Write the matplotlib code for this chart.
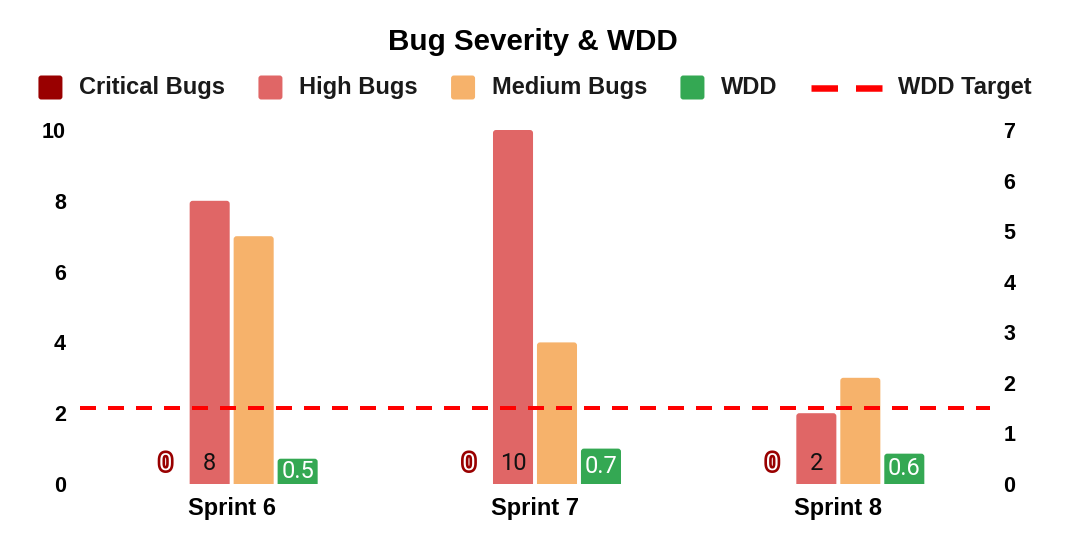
import numpy as np
import matplotlib
matplotlib.use("Agg")
import matplotlib.pyplot as plt
import matplotlib.patheffects as pe
from matplotlib.offsetbox import DrawingArea, TextArea, HPacker, AnchoredOffsetbox
from matplotlib.patches import FancyBboxPatch
from matplotlib.lines import Line2D

# data
sprints = ['Sprint 6', 'Sprint 7', 'Sprint 8']
critical_bugs = [0, 0, 0]
high_bugs = [8, 10, 2]
medium_bugs = [7, 4, 3]
wdd = [0.5, 0.7, 0.6]
wdd_target = 1.5

left_ticks = [0, 2, 4, 6, 8, 10]
right_ticks = [0, 1, 2, 3, 4, 5, 6, 7]

c_crit = '#990000'
c_high = '#E06666'
c_med = '#F6B26B'
c_wdd = '#34A853'
c_target = '#FF0000'

plt.rcParams['font.family'] = ['Liberation Sans', 'DejaVu Sans']
plt.rcParams['lines.scale_dashes'] = False

W, H, DPI = 1070, 548, 100
px = 72 / DPI  # points per pixel
AX_W, AX_H = 910, 354

fig = plt.figure(figsize=(W / DPI, H / DPI), dpi=DPI)
ax = fig.add_axes([80 / W, 64 / H, AX_W / W, AX_H / H])
ax2 = ax.twinx()

x = np.arange(len(sprints))
bar_w = 0.132
step = 0.145


def round_tops(axis, bars, y_span, radius_px=3):
    # swap plain rectangles for ones with rounded corners (bottom ones get clipped)
    x_upp = len(sprints) / AX_W
    asp = (y_span / AX_H) / x_upp
    r = radius_px * x_upp
    for b in bars:
        if b.get_height() <= 0:
            continue
        fb = FancyBboxPatch((b.get_x(), -r * asp), b.get_width(), b.get_height() + r * asp,
                            boxstyle=f'round,pad=0,rounding_size={r}', mutation_aspect=asp,
                            fc=b.get_facecolor(), ec='none', zorder=b.get_zorder())
        axis.add_patch(fb)
        b.set_visible(False)


ax.bar(x - 1.5 * step, critical_bugs, bar_w, color=c_crit, zorder=2)
hb = ax.bar(x - 0.5 * step, high_bugs, bar_w, color=c_high, zorder=2)
mb = ax.bar(x + 0.5 * step, medium_bugs, bar_w, color=c_med, zorder=2)
wb = ax2.bar(x + 1.5 * step, wdd, bar_w, color=c_wdd, zorder=2)
round_tops(ax, hb, 10)
round_tops(ax, mb, 10)
round_tops(ax2, wb, 7)
ax2.axhline(wdd_target, color=c_target, lw=4 * px, dashes=(16 * px, 12 * px), zorder=3)

ax.set_xlim(-0.5, len(sprints) - 0.5)
ax.set_ylim(0, 10)
ax2.set_ylim(0, 7)
ax.set_yticks(left_ticks)
ax2.set_yticks(right_ticks)
ax.set_xticks(x)
ax.set_xticklabels(sprints)

for a in (ax, ax2):
    for s in a.spines.values():
        s.set_visible(False)
    a.tick_params(length=0, labelsize=15.5, labelcolor='black')
    for lab in a.get_yticklabels():
        lab.set_fontweight('bold')
ax.tick_params(axis='y', pad=10)
ax2.tick_params(axis='y', pad=9.5)
ax.tick_params(axis='x', pad=9, labelsize=17)
for lab in ax.get_xticklabels():
    lab.set_fontweight('bold')

# data labels
lbl_font = dict(family=['Roboto', 'DejaVu Sans'], fontsize=17)
for xi, v in zip(x - 1.5 * step, critical_bugs):
    ax2.annotate(str(v), (xi, 0), xytext=(0, 10), textcoords='offset points',
                 ha='center', va='baseline', color='white', zorder=5,
                 path_effects=[pe.Stroke(linewidth=3.8, foreground=c_crit), pe.Normal()],
                 **lbl_font)
for xi, v in zip(x - 0.5 * step, high_bugs):
    ax2.annotate(str(v), (xi, 0), xytext=(0, 10), textcoords='offset points',
                 ha='center', va='baseline', color='#111111', zorder=5, **lbl_font)
for xi, v in zip(x + 1.5 * step, wdd):
    ax2.text(xi, v / 2, f'{v:g}', ha='center', va='center', color='white',
             zorder=5, **lbl_font)

# title
fig.text(533 / W, 1 - 42 / H, 'Bug Severity & WDD', ha='center', va='center',
         fontsize=21.3, fontweight='bold', color='black')

# legend built from boxes so each handle keeps its own size
txt_props = dict(fontsize=17, fontweight='bold', color='#1a1a1a')
entries = []
for name, col in [('Critical Bugs', c_crit), ('High Bugs', c_high),
                  ('Medium Bugs', c_med), ('WDD', c_wdd)]:
    da = DrawingArea(24 * px, 24 * px)
    da.add_artist(FancyBboxPatch((0, 0), 24 * px, 24 * px,
                                 boxstyle='round,pad=0,rounding_size=2',
                                 fc=col, ec='none'))
    entries.append(HPacker(children=[da, TextArea(name, textprops=txt_props)],
                           sep=17 * px, align='center', pad=0))
da = DrawingArea(71 * px, 24 * px)
da.add_artist(Line2D([0, 71 * px], [12 * px, 12 * px], color=c_target,
                     lw=6.5 * px, dashes=(26.5 * px, 18 * px),
                     solid_capstyle='butt', dash_capstyle='butt'))
entries.append(HPacker(children=[da, TextArea('WDD Target', textprops=txt_props)],
                       sep=16 * px, align='center', pad=0))
legend_row = HPacker(children=entries, sep=33 * px, align='center', pad=0)
anch = AnchoredOffsetbox(loc='center', child=legend_row, pad=0, borderpad=0,
                         frameon=False, bbox_to_anchor=(535 / W, 1 - 87.5 / H),
                         bbox_transform=fig.transFigure)
fig.add_artist(anch)

plt.savefig('out.png', dpi=DPI)
